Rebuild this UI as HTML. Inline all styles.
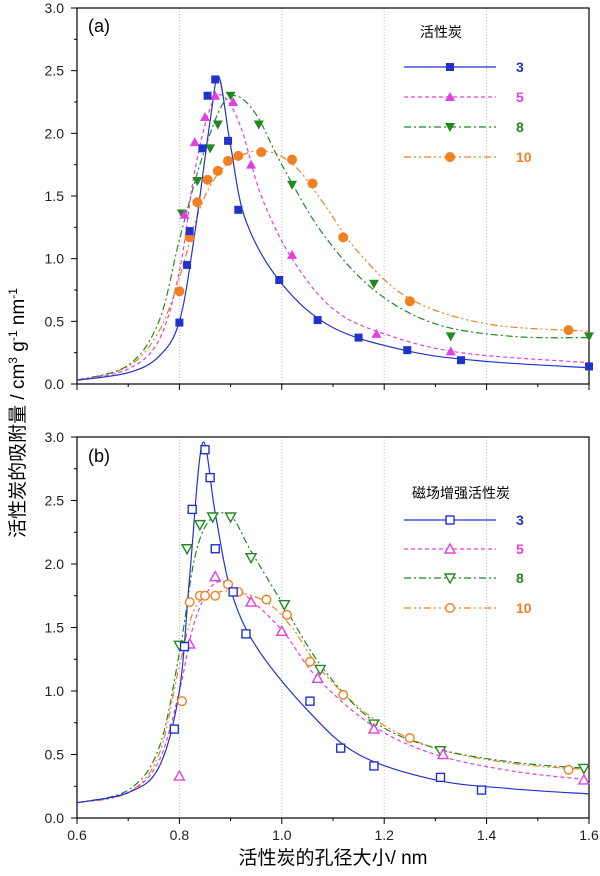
<!DOCTYPE html>
<html><head><meta charset="utf-8"><style>
body{margin:0;background:#fff;width:600px;height:871px;overflow:hidden}
svg text{font-family:"Liberation Sans","Noto Sans CJK SC",sans-serif}
</style></head><body>
<svg id="s" width="600" height="871" xmlns="http://www.w3.org/2000/svg"></svg>
<script>
const S=document.getElementById('s');let h='';
const X=v=>77+(v-0.6)*512;
const P=[{t:8,b:384},{t:437,b:818}];
const Y=(p,v)=>P[p].b-(P[p].b-P[p].t)*v/3;
const C={3:'#2233cc',5:'#e040e0',8:'#228822',10:'#f08020'};
const D={3:'',5:'4,3',8:'7,3,2,3',10:'7,3,2,3,2,3'};
function spline(p,pts,col,dash){let q=pts.map(a=>[X(a[0]),Y(p,a[1])]);let d='M'+q[0][0]+','+q[0][1];
for(let i=0;i<q.length-1;i++){let p0=q[i-1]||q[i],p1=q[i],p2=q[i+1],p3=q[i+2]||q[i+1];
d+=` C${p1[0]+(p2[0]-p0[0])/6},${p1[1]+(p2[1]-p0[1])/6} ${p2[0]-(p3[0]-p1[0])/6},${p2[1]-(p3[1]-p1[1])/6} ${p2[0]},${p2[1]}`;}
h+=`<path d="${d}" fill="none" stroke="${col}" stroke-width="1.2" stroke-dasharray="${dash}"/>`;}
function mk(x,y,k,col,fill){const f=fill?col:'#fff';const sw=fill?0:1.4;
if(k==3)h+=`<rect x="${x-4}" y="${y-4}" width="8" height="8" fill="${f}" stroke="${col}" stroke-width="${sw}"/>`;
if(k==5)h+=`<polygon points="${x},${y-5} ${x+5},${y+4} ${x-5},${y+4}" fill="${f}" stroke="${col}" stroke-width="${sw}"/>`;
if(k==8)h+=`<polygon points="${x},${y+5} ${x+5},${y-4} ${x-5},${y-4}" fill="${f}" stroke="${col}" stroke-width="${sw}"/>`;
if(k==10)h+=`<circle cx="${x}" cy="${y}" r="${fill?5:4.3}" fill="${f}" stroke="${col}" stroke-width="${sw}"/>`;}
// frames
for(let p=0;p<2;p++){const t=P[p].t,b=P[p].b;
[0.8,1.0,1.2,1.4].forEach(v=>h+=`<line x1="${X(v)}" x2="${X(v)}" y1="${t}" y2="${b}" stroke="#bbb" stroke-dasharray="1,2"/>`);
h+=`<rect x="77" y="${t}" width="512" height="${b-t}" fill="none" stroke="#000" stroke-width="1.2"/>`;
for(let v=0;v<=3.001;v+=0.25){const y=Y(p,v);const L=(Math.round(v*4)%2==0)?6:3;h+=`<line x1="${77-L}" x2="77" y1="${y}" y2="${y}" stroke="#000"/>`;
if(Math.round(v*4)%2==0)h+=`<text x="64" y="${y+5}" font-size="14" text-anchor="end" fill="#222">${v.toFixed(1)}</text>`;}
for(let v=0.6;v<=1.601;v+=0.1){const x=X(v);const M=Math.round(v*10)%2==0;h+=`<line x1="${x}" x2="${x}" y1="${b}" y2="${b+(M?6:3)}" stroke="#000"/>`;
if(p==1&&M)h+=`<text x="${x}" y="${b+22}" font-size="14" text-anchor="middle" fill="#222">${v.toFixed(1)}</text>`;}}
h+=`<text x="88" y="32" font-size="18">(a)</text><text x="88" y="462" font-size="18">(b)</text>`;
const A={3:{c:[[0.6,0.03],[0.7,0.09],[0.76,0.22],[0.8,0.5],[0.83,1.2],[0.86,2.1],[0.877,2.45],[0.9,1.9],[0.93,1.3],[1.0,0.8],[1.1,0.45],[1.25,0.26],[1.4,0.18],[1.6,0.13]],
m:[[0.8,0.49],[0.815,0.95],[0.82,1.22],[0.845,1.88],[0.855,2.3],[0.87,2.43],[0.895,1.94],[0.915,1.39],[0.995,0.83],[1.07,0.51],[1.15,0.37],[1.245,0.27],[1.35,0.19],[1.6,0.14]]},
5:{c:[[0.6,0.03],[0.7,0.12],[0.76,0.35],[0.8,0.9],[0.83,1.7],[0.86,2.2],[0.885,2.3],[0.92,2.05],[0.96,1.5],[1.02,1.0],[1.1,0.6],[1.2,0.4],[1.35,0.25],[1.6,0.17]],
m:[[0.81,1.35],[0.83,1.93],[0.85,2.13],[0.87,2.3],[0.905,2.25],[0.94,1.75],[1.02,1.03],[1.185,0.4],[1.33,0.26]]},
8:{c:[[0.6,0.03],[0.7,0.15],[0.76,0.5],[0.8,1.15],[0.84,1.75],[0.88,2.2],[0.91,2.3],[0.95,2.15],[1.0,1.75],[1.08,1.2],[1.18,0.75],[1.3,0.48],[1.45,0.38],[1.6,0.37]],
m:[[0.805,1.36],[0.835,1.62],[0.86,1.88],[0.875,2.07],[0.9,2.3],[0.955,2.07],[1.02,1.59],[1.18,0.8],[1.33,0.38],[1.6,0.38]]},
10:{c:[[0.6,0.03],[0.7,0.14],[0.76,0.42],[0.8,0.85],[0.84,1.4],[0.88,1.7],[0.93,1.84],[0.98,1.85],[1.03,1.72],[1.08,1.45],[1.15,1.05],[1.25,0.68],[1.4,0.48],[1.6,0.42]],
m:[[0.8,0.74],[0.82,1.17],[0.835,1.45],[0.855,1.63],[0.875,1.7],[0.895,1.78],[0.915,1.82],[0.96,1.85],[1.02,1.79],[1.06,1.6],[1.12,1.17],[1.25,0.66],[1.56,0.43]]}};
const B={3:{c:[[0.6,0.12],[0.7,0.2],[0.76,0.4],[0.8,1.0],[0.82,1.9],[0.845,2.95],[0.87,2.4],[0.9,1.8],[0.95,1.35],[1.05,0.85],[1.15,0.5],[1.3,0.3],[1.45,0.23],[1.6,0.19]],
m:[[0.79,0.7],[0.81,1.35],[0.825,2.43],[0.85,2.9],[0.86,2.68],[0.87,2.12],[0.905,1.78],[0.93,1.45],[1.055,0.92],[1.115,0.55],[1.18,0.41],[1.31,0.32],[1.39,0.22]]},
5:{c:[[0.6,0.12],[0.7,0.2],[0.76,0.45],[0.8,1.0],[0.83,1.55],[0.87,1.85],[0.92,1.78],[1.0,1.48],[1.07,1.1],[1.18,0.72],[1.3,0.5],[1.45,0.37],[1.6,0.3]],
m:[[0.8,0.33],[0.82,1.37],[0.87,1.9],[0.94,1.7],[1.0,1.47],[1.07,1.1],[1.18,0.7],[1.315,0.5],[1.59,0.3]]},
8:{c:[[0.6,0.12],[0.7,0.22],[0.76,0.55],[0.8,1.3],[0.83,2.05],[0.86,2.35],[0.9,2.38],[0.94,2.1],[1.0,1.7],[1.08,1.18],[1.18,0.76],[1.3,0.55],[1.45,0.44],[1.6,0.39]],
m:[[0.8,1.36],[0.815,2.12],[0.84,2.31],[0.865,2.37],[0.9,2.37],[0.94,2.05],[1.005,1.68],[1.075,1.17],[1.18,0.74],[1.31,0.53],[1.59,0.39]]},
10:{c:[[0.6,0.12],[0.7,0.2],[0.76,0.5],[0.8,1.2],[0.83,1.65],[0.87,1.77],[0.91,1.78],[0.97,1.7],[1.02,1.5],[1.08,1.15],[1.18,0.78],[1.3,0.55],[1.45,0.43],[1.6,0.38]],
m:[[0.805,0.92],[0.82,1.7],[0.84,1.75],[0.85,1.75],[0.87,1.75],[0.895,1.84],[0.915,1.78],[0.97,1.72],[1.01,1.6],[1.055,1.23],[1.12,0.97],[1.25,0.63],[1.56,0.38]]}};
[A,B].forEach((G,p)=>{[10,8,5,3].forEach(k=>spline(p,G[k].c,C[k],D[k]));[10,8,5,3].forEach(k=>G[k].m.forEach(a=>mk(X(a[0]),Y(p,a[1]),k,C[k],p==0)));});
// legends
[[33,'活性炭',[67,97,127,157],true],[494,'磁场增强活性炭',[520,549,578,608],false]].forEach(L=>{
h+=`<text x="${L[0]==33?420:412}" y="${L[0]+4}" font-size="14">${L[1]}</text>`;
[3,5,8,10].forEach((k,i)=>{const y=L[2][i];h+=`<line x1="404" x2="496" y1="${y}" y2="${y}" stroke="${C[k]}" stroke-width="1.2" stroke-dasharray="${D[k]}"/>`;mk(450,y,k,C[k],L[3]);
h+=`<text x="516" y="${y+5}" font-size="14" font-weight="bold" fill="${C[k]}">${k}</text>`;});});
h+=`<text transform="translate(24,413) rotate(-90)" font-size="19" text-anchor="middle">活性炭的吸附量 / cm<tspan font-size="12" dy="-7">3</tspan><tspan dy="7"> g</tspan><tspan font-size="12" dy="-7">-1</tspan><tspan dy="7"> nm</tspan><tspan font-size="12" dy="-7">-1</tspan></text>`;
h+=`<text x="333" y="864" font-size="19" text-anchor="middle">活性炭的孔径大小/ nm</text>`;
S.innerHTML=h;
</script></body></html>
